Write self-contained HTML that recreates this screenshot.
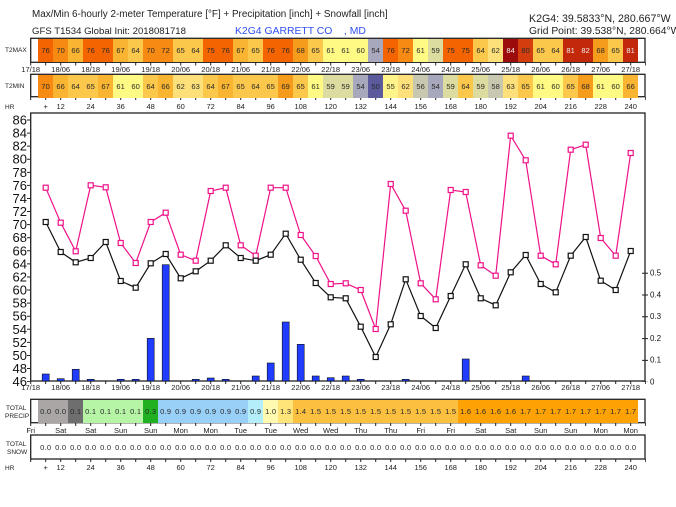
<!DOCTYPE html>
<html><head><meta charset="utf-8"><style>
body{margin:0;background:#fff;width:676px;height:507px;overflow:hidden;position:relative;font-family:"Liberation Sans",sans-serif}
svg{position:absolute;left:0;top:0}
.row{position:absolute;left:38.2px;display:flex;height:23px}
.row i{font-style:normal;width:15px;height:23px;line-height:23px;text-align:center;font-size:7.5px;color:#2a2a2a;letter-spacing:.2px}
.A{background:#f46400}.B{background:#f68a12}.C{background:#f9b432}.D{background:#fcc84c}.E{background:#f59c1c}.F{background:#fee07a}.G{background:#fffa84}.H{background:#dcdca0}.I{background:#a8a8bc}.J{background:#c8c8b0}.K{background:#fff48a}.L{background:#5a5a9c}.M{background:#9c0c0c;color:#eee!important}.N{background:#d43e0e}.O{background:#c4280a;color:#eee!important}
.p0{background:#aaa6a6}.p1{background:#6e6e6e}.q{background:#b6f4a6}.r{background:#20b020}.s{background:#98d0f8}.t{background:#b4eefa}.u{background:#fffab0}.v{background:#ffe47a}.w{background:#fcc040}.x{background:#fca204}
</style></head><body>
<svg width="676" height="507" xmlns="http://www.w3.org/2000/svg" font-family="Liberation Sans, sans-serif">
<defs>
<marker id="mp" markerWidth="7" markerHeight="7" refX="3.5" refY="3.5" markerUnits="userSpaceOnUse"><rect x="1" y="1" width="5" height="5" fill="#fff" stroke="#ee1188" stroke-width="1.2"/></marker>
<marker id="mb" markerWidth="7" markerHeight="7" refX="3.5" refY="3.5" markerUnits="userSpaceOnUse"><rect x="1" y="1" width="5" height="5" fill="#fff" stroke="#111" stroke-width="1.2"/></marker>
</defs>
<text x="32" y="17" font-size="9.9" fill="#222">Max/Min 6-hourly 2-meter Temperature [°F] + Precipitation [inch] + Snowfall [inch]</text>
<text x="32" y="34" font-size="9.6" fill="#222">GFS T1534 Global Init: 2018081718</text>
<text x="235" y="34" font-size="10.4" fill="#3050f0">K2G4 GARRETT CO &#160;&#160;&#160;, MD</text>
<text x="529" y="22" font-size="10.6" fill="#222">K2G4: 39.5833°N, 280.667°W</text>
<text x="529" y="34" font-size="10.3" fill="#222">Grid Point: 39.538°N, 280.664°W</text>
<g fill="#fff" stroke="#222" stroke-width="1.3">
<rect x="30.7" y="38.3" width="614.3" height="24"/>
<rect x="30.7" y="74.3" width="614.3" height="22.4"/>
<rect x="30.7" y="113" width="614.3" height="268"/>
<rect x="30.7" y="399.3" width="614.3" height="23.4"/>
<rect x="30.7" y="435" width="614.3" height="24"/>
</g>
<g stroke="#222" stroke-width="3" stroke-dasharray="1 14">
<line x1="30.2" y1="64" x2="646" y2="64"/>
<line x1="30.2" y1="98.5" x2="646" y2="98.5"/>
<line x1="30.2" y1="382.5" x2="646" y2="382.5"/>
<line x1="30.2" y1="424.5" x2="646" y2="424.5"/>
<line x1="30.2" y1="460.5" x2="646" y2="460.5"/>
</g>
<line x1="28.5" y1="119.5" x2="28.5" y2="382" stroke="#222" stroke-width="3" stroke-dasharray="1 12.08"/>
<g font-size="6.5" fill="#222">
<text x="5" y="52">T2MAX</text><text x="5" y="88">T2MIN</text>
<text x="5" y="109">HR</text><text x="5" y="470">HR</text>
<text x="6" y="410">TOTAL</text><text x="5" y="418">PRECIP</text>
<text x="6" y="446">TOTAL</text><text x="7" y="454">SNOW</text>
</g>
<g font-size="7.5" fill="#222" text-anchor="middle">
<g transform="translate(0,72)"><text x="30.7">17/18</text><text x="60.7">18/06</text><text x="90.7">18/18</text><text x="120.7">19/06</text><text x="150.7">19/18</text><text x="180.7">20/06</text><text x="210.7">20/18</text><text x="240.7">21/06</text><text x="270.7">21/18</text><text x="300.7">22/06</text><text x="330.7">22/18</text><text x="360.7">23/06</text><text x="390.7">23/18</text><text x="420.7">24/06</text><text x="450.7">24/18</text><text x="480.7">25/06</text><text x="510.7">25/18</text><text x="540.7">26/06</text><text x="570.7">26/18</text><text x="600.7">27/06</text><text x="630.7">27/18</text></g>
<g transform="translate(0,390)"><text x="30.7">17/18</text><text x="60.7">18/06</text><text x="90.7">18/18</text><text x="120.7">19/06</text><text x="150.7">19/18</text><text x="180.7">20/06</text><text x="210.7">20/18</text><text x="240.7">21/06</text><text x="270.7">21/18</text><text x="300.7">22/06</text><text x="330.7">22/18</text><text x="360.7">23/06</text><text x="390.7">23/18</text><text x="420.7">24/06</text><text x="450.7">24/18</text><text x="480.7">25/06</text><text x="510.7">25/18</text><text x="540.7">26/06</text><text x="570.7">26/18</text><text x="600.7">27/06</text><text x="630.7">27/18</text></g>
<g transform="translate(0,109)"><text x="45.7">+</text><text x="60.7">12</text><text x="90.7">24</text><text x="120.7">36</text><text x="150.7">48</text><text x="180.7">60</text><text x="210.7">72</text><text x="240.7">84</text><text x="270.7">96</text><text x="300.7">108</text><text x="330.7">120</text><text x="360.7">132</text><text x="390.7">144</text><text x="420.7">156</text><text x="450.7">168</text><text x="480.7">180</text><text x="510.7">192</text><text x="540.7">204</text><text x="570.7">216</text><text x="600.7">228</text><text x="630.7">240</text></g>
<g transform="translate(0,470)"><text x="45.7">+</text><text x="60.7">12</text><text x="90.7">24</text><text x="120.7">36</text><text x="150.7">48</text><text x="180.7">60</text><text x="210.7">72</text><text x="240.7">84</text><text x="270.7">96</text><text x="300.7">108</text><text x="330.7">120</text><text x="360.7">132</text><text x="390.7">144</text><text x="420.7">156</text><text x="450.7">168</text><text x="480.7">180</text><text x="510.7">192</text><text x="540.7">204</text><text x="570.7">216</text><text x="600.7">228</text><text x="630.7">240</text></g>
<g transform="translate(0,433)"><text x="30.7">Fri</text><text x="60.7">Sat</text><text x="90.7">Sat</text><text x="120.7">Sun</text><text x="150.7">Sun</text><text x="180.7">Mon</text><text x="210.7">Mon</text><text x="240.7">Tue</text><text x="270.7">Tue</text><text x="300.7">Wed</text><text x="330.7">Wed</text><text x="360.7">Thu</text><text x="390.7">Thu</text><text x="420.7">Fri</text><text x="450.7">Fri</text><text x="480.7">Sat</text><text x="510.7">Sat</text><text x="540.7">Sun</text><text x="570.7">Sun</text><text x="600.7">Mon</text><text x="630.7">Mon</text></g>
</g>
<g font-size="13" fill="#111" text-anchor="end">
<text x="27" y="124.5">86</text><text x="27" y="137.6">84</text><text x="27" y="150.7">82</text><text x="27" y="163.7">80</text><text x="27" y="176.8">78</text><text x="27" y="189.9">76</text><text x="27" y="203">74</text><text x="27" y="216.1">72</text><text x="27" y="229.1">70</text><text x="27" y="242.2">68</text><text x="27" y="255.3">66</text><text x="27" y="268.4">64</text><text x="27" y="281.5">62</text><text x="27" y="294.5">60</text><text x="27" y="307.6">58</text><text x="27" y="320.7">56</text><text x="27" y="333.8">54</text><text x="27" y="346.9">52</text><text x="27" y="359.9">50</text><text x="27" y="373">48</text><text x="27" y="386">46</text>
</g>
<g font-size="8" fill="#111">
<text x="650" y="275.5">0.5</text><text x="650" y="297.3">0.4</text><text x="650" y="319.1">0.3</text><text x="650" y="340.9">0.2</text><text x="650" y="362.7">0.1</text><text x="650" y="384.5">0</text>
</g>
<line x1="645" y1="272.7" x2="645" y2="382" stroke="#222" stroke-width="6" stroke-dasharray="1 20.8"/>
<g fill="#1f3cff" stroke="#111" stroke-width=".6">
<rect x="42.2" y="374" width="7" height="7"/><rect x="57.2" y="378.7" width="7" height="2.3"/><rect x="72.2" y="369.3" width="7" height="11.7"/><rect x="87.2" y="379.3" width="7" height="1.7"/><rect x="117.2" y="379.3" width="7" height="1.7"/><rect x="132.2" y="379.3" width="7" height="1.7"/><rect x="147.2" y="338.3" width="7" height="42.7"/><rect x="162.2" y="264.7" width="7" height="116.3"/><rect x="192.2" y="379.3" width="7" height="1.7"/><rect x="207.2" y="378" width="7" height="3"/><rect x="222.2" y="379.3" width="7" height="1.7"/><rect x="252.2" y="376" width="7" height="5"/><rect x="267.2" y="363" width="7" height="18"/><rect x="282.2" y="322" width="7" height="59"/><rect x="297.2" y="344.3" width="7" height="36.7"/><rect x="312.2" y="376" width="7" height="5"/><rect x="327.2" y="377.7" width="7" height="3.3"/><rect x="342.2" y="376" width="7" height="5"/><rect x="357.2" y="379.3" width="7" height="1.7"/><rect x="402.2" y="379.3" width="7" height="1.7"/><rect x="462.2" y="359" width="7" height="22"/><rect x="522.2" y="376" width="7" height="5"/>
</g>
<polyline fill="none" stroke="#ee1188" stroke-width="1.2" marker-start="url(#mp)" marker-mid="url(#mp)" marker-end="url(#mp)" points="45.7,187.7 60.7,222.7 75.7,251.3 90.7,185.3 105.7,187.3 120.7,243 135.7,263 150.7,222 165.7,212.7 180.7,254.7 195.7,260.7 210.7,191 225.7,187.7 240.7,245.3 255.7,255.7 270.7,187.7 285.7,187.7 300.7,235 315.7,256 330.7,284 345.7,283.3 360.7,290 375.7,329 390.7,184 405.7,210.7 420.7,283.3 435.7,299.3 450.7,190 465.7,192 480.7,265.3 495.7,275.7 510.7,135.7 525.7,160.3 540.7,255.7 555.7,264.3 570.7,149.7 585.7,144.7 600.7,238 615.7,255.7 630.7,153"/>
<polyline fill="none" stroke="#111" stroke-width="1.2" marker-start="url(#mb)" marker-mid="url(#mb)" marker-end="url(#mb)" points="45.7,222 60.7,252 75.7,262.3 90.7,258 105.7,242 120.7,281 135.7,287.7 150.7,263.3 165.7,254 180.7,278.3 195.7,271.3 210.7,260.7 225.7,245.3 240.7,258 255.7,260.7 270.7,254.7 285.7,233.7 300.7,259.7 315.7,283 330.7,297.3 345.7,298.3 360.7,326.7 375.7,357 390.7,324.3 405.7,279.3 420.7,316 435.7,328 450.7,296 465.7,264.3 480.7,298.3 495.7,305.3 510.7,272.3 525.7,255 540.7,284 555.7,292.3 570.7,255.7 585.7,237 600.7,280.7 615.7,290 630.7,251"/>
</svg>
<div class="row" style="top:39px"><i class=A>76</i><i class=B>70</i><i class=C>66</i><i class=A>76</i><i class=A>76</i><i class=C>67</i><i class=D>64</i><i class=B>70</i><i class=B>72</i><i class=D>65</i><i class=D>64</i><i class=A>75</i><i class=A>76</i><i class=C>67</i><i class=D>65</i><i class=A>76</i><i class=A>76</i><i class=E>68</i><i class=D>65</i><i class=G>61</i><i class=G>61</i><i class=G>60</i><i class=I>54</i><i class=A>76</i><i class=B>72</i><i class=G>61</i><i class=H>59</i><i class=A>75</i><i class=A>75</i><i class=D>64</i><i class=F>62</i><i class=M>84</i><i class=N>80</i><i class=D>65</i><i class=D>64</i><i class=O>81</i><i class=O>82</i><i class=E>68</i><i class=D>65</i><i class=O>81</i></div>
<div class="row" style="top:74.5px;height:22px"><i class=B>70</i><i class=C>66</i><i class=D>64</i><i class=D>65</i><i class=C>67</i><i class=G>61</i><i class=G>60</i><i class=D>64</i><i class=C>66</i><i class=F>62</i><i class=F>63</i><i class=D>64</i><i class=C>67</i><i class=D>65</i><i class=D>64</i><i class=D>65</i><i class=E>69</i><i class=D>65</i><i class=G>61</i><i class=H>59</i><i class=H>59</i><i class=I>54</i><i class=L>50</i><i class=K>55</i><i class=F>62</i><i class=J>56</i><i class=I>54</i><i class=H>59</i><i class=D>64</i><i class=H>59</i><i class=J>58</i><i class=F>63</i><i class=D>65</i><i class=G>61</i><i class=G>60</i><i class=D>65</i><i class=E>68</i><i class=G>61</i><i class=G>60</i><i class=C>66</i></div>
<div class="row" style="top:400px"><i class=p0>0.0</i><i class=p0>0.0</i><i class=p1>0.1</i><i class=q>0.1</i><i class=q>0.1</i><i class=q>0.1</i><i class=q>0.1</i><i class=r>0.3</i><i class=s>0.9</i><i class=s>0.9</i><i class=s>0.9</i><i class=s>0.9</i><i class=s>0.9</i><i class=s>0.9</i><i class=t>0.9</i><i class=u>1.0</i><i class=v>1.3</i><i class=w>1.4</i><i class=w>1.5</i><i class=w>1.5</i><i class=w>1.5</i><i class=w>1.5</i><i class=w>1.5</i><i class=w>1.5</i><i class=w>1.5</i><i class=w>1.5</i><i class=w>1.5</i><i class=w>1.5</i><i class=x>1.6</i><i class=x>1.6</i><i class=x>1.6</i><i class=x>1.6</i><i class=x>1.7</i><i class=x>1.7</i><i class=x>1.7</i><i class=x>1.7</i><i class=x>1.7</i><i class=x>1.7</i><i class=x>1.7</i><i class=x>1.7</i></div>
<div class="row" style="top:436px"><i>0.0</i><i>0.0</i><i>0.0</i><i>0.0</i><i>0.0</i><i>0.0</i><i>0.0</i><i>0.0</i><i>0.0</i><i>0.0</i><i>0.0</i><i>0.0</i><i>0.0</i><i>0.0</i><i>0.0</i><i>0.0</i><i>0.0</i><i>0.0</i><i>0.0</i><i>0.0</i><i>0.0</i><i>0.0</i><i>0.0</i><i>0.0</i><i>0.0</i><i>0.0</i><i>0.0</i><i>0.0</i><i>0.0</i><i>0.0</i><i>0.0</i><i>0.0</i><i>0.0</i><i>0.0</i><i>0.0</i><i>0.0</i><i>0.0</i><i>0.0</i><i>0.0</i><i>0.0</i></div>
</body></html>
